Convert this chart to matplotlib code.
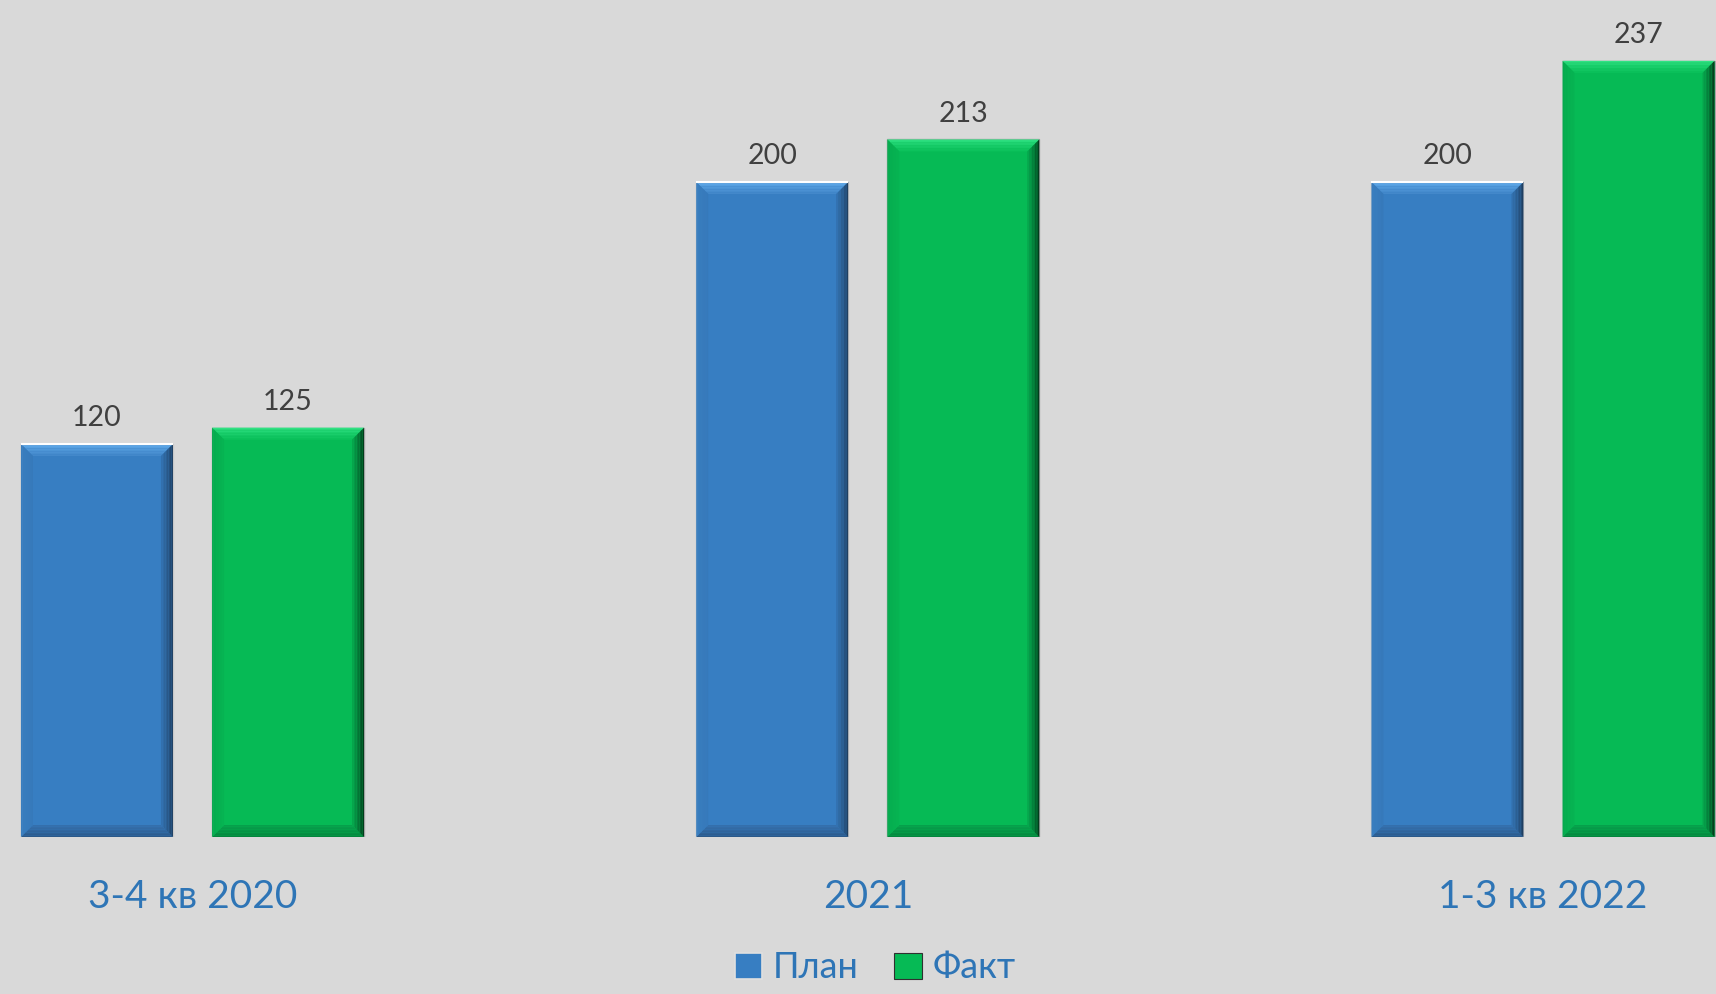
import numpy as np
import matplotlib
matplotlib.use("Agg")
import matplotlib.pyplot as plt
from matplotlib.patches import Polygon, Patch
from matplotlib.colors import to_rgb

# ---- data ----
categories = ["3-4 кв 2020", "2021", "1-3 кв 2022"]
plan = [120, 200, 200]
fact = [125, 213, 237]
series_names = ["План", "Факт"]

# ---- style ----
plt.rcParams['font.family'] = ['Lato', 'Noto Sans', 'DejaVu Sans']
BG = "#D9D9D9"
BLUE = "#377EC2"
GREEN = "#06BA55"
TXT_BLUE = "#2E75B6"
LBL = "#404040"

W, H, DPI = 1716, 994, 100
fig = plt.figure(figsize=(W / DPI, H / DPI), dpi=DPI, facecolor=BG)
base_px = 837
ax = fig.add_axes([0, (H - base_px) / H, 1, base_px / H])
ax.set_facecolor(BG)

spacing_px = 675.25
x0_px = 192.5
xlim = (-x0_px / spacing_px, (W - x0_px) / spacing_px)
ax.set_xlim(*xlim)
px_per_unit_y = 3.275
ax.set_ylim(0, base_px / px_per_unit_y)

x = np.arange(len(categories))
bw = 152 / spacing_px
off = 0.1415
b1 = ax.bar(x - off, plan, width=bw, color=BLUE, edgecolor="#C8C8C8", linewidth=1.0, zorder=2, label=series_names[0])
b2 = ax.bar(x + off, fact, width=bw, color=GREEN, edgecolor="#A8A8A8", linewidth=1.0, zorder=2, label=series_names[1])

# bevel effect
ppx = W / (xlim[1] - xlim[0])
ppy = px_per_unit_y
bev = 12.0
N = 8

def mix(c1, c2, t):
    a = np.array(to_rgb(c1)); b = np.array(to_rgb(c2))
    return tuple(a + (b - a) * t)

def bevel(bar, top_c, bot_c, left_c, right_c):
    x0 = bar.get_x(); w = bar.get_width(); x1 = x0 + w
    y0 = bar.get_y(); y1 = y0 + bar.get_height()
    bx = bev / ppx; by = bev / ppy
    for i in range(N):
        t0 = i / N; t1 = (i + 1) / N
        sides = [
            ([(x0 + bx*t0, y1 - by*t0), (x1 - bx*t0, y1 - by*t0), (x1 - bx*t1, y1 - by*t1), (x0 + bx*t1, y1 - by*t1)], top_c),
            ([(x0 + bx*t0, y0 + by*t0), (x1 - bx*t0, y0 + by*t0), (x1 - bx*t1, y0 + by*t1), (x0 + bx*t1, y0 + by*t1)], bot_c),
            ([(x0 + bx*t0, y0 + by*t0), (x0 + bx*t0, y1 - by*t0), (x0 + bx*t1, y1 - by*t1), (x0 + bx*t1, y0 + by*t1)], left_c),
            ([(x1 - bx*t0, y0 + by*t0), (x1 - bx*t0, y1 - by*t0), (x1 - bx*t1, y1 - by*t1), (x1 - bx*t1, y0 + by*t1)], right_c),
        ]
        tm = ((t0 + t1) / 2) ** 0.7
        for pts, (c_out, c_in) in sides:
            ax.add_patch(Polygon(pts, closed=True, facecolor=mix(c_out, c_in, tm),
                                 edgecolor='none', zorder=3))

for bar in b1:
    bevel(bar, ("#66B2F2", "#4186C8"), ("#2A5583", "#3470AE"),
          ("#3A7FC0", "#3679BA"), ("#1C3654", "#3373B2"))
    ax.plot([bar.get_x(), bar.get_x() + bar.get_width()], [bar.get_height()] * 2,
            color="white", lw=1.5, zorder=4, solid_capstyle='butt')
for bar in b2:
    bevel(bar, ("#36E88A", "#0AC05A"), ("#04803A", "#06A24C"),
          ("#05A94D", "#06B352"), ("#012A12", "#06AA4F"))

for bars in (b1, b2):
    ax.bar_label(bars, labels=[str(v) for v in bars.datavalues], padding=9,
                 fontsize=20.5, color=LBL)

ax.set_xticks(x, categories)
ax.tick_params(axis='x', length=0, pad=30, labelsize=28, labelcolor=TXT_BLUE)
ax.set_yticks([])
for s in ax.spines.values():
    s.set_visible(False)

handles = [Patch(facecolor=BLUE, edgecolor="#E0E0E0", linewidth=1.2),
           Patch(facecolor=GREEN, edgecolor="#303030", linewidth=0.8)]
fig.legend(handles, series_names, loc='center', bbox_to_anchor=(875 / W, 1 - 968 / H),
           ncol=2, frameon=False, fontsize=26, labelcolor=TXT_BLUE,
           handlelength=0.75, handleheight=0.75, handletextpad=0.3, columnspacing=1.0)

fig.savefig("out.png", dpi=DPI, facecolor=BG)
